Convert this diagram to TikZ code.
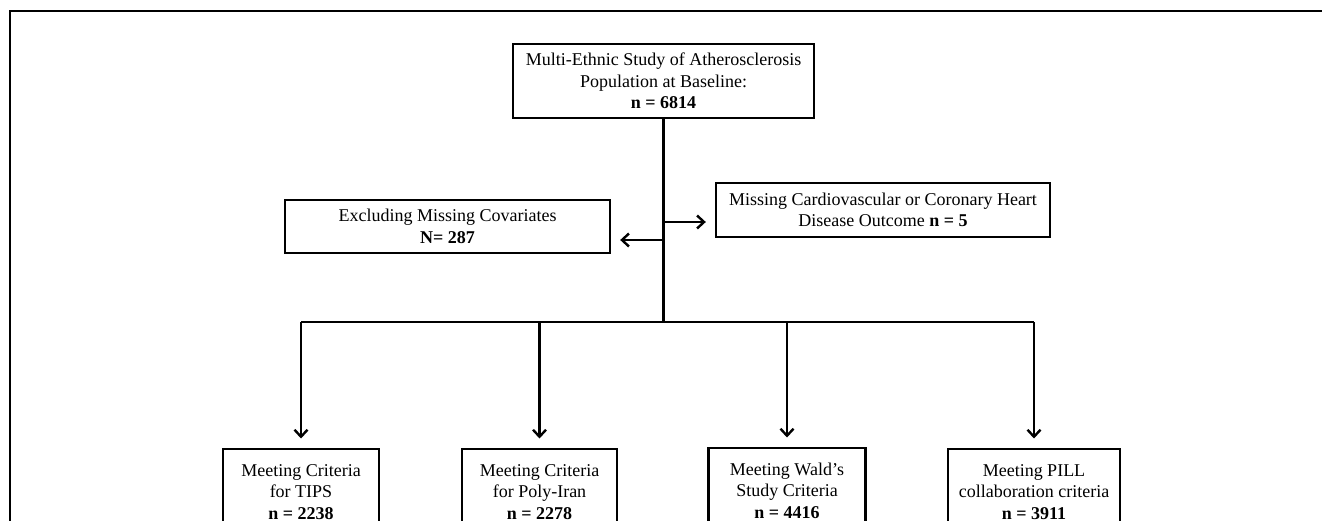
\documentclass[tikz,border=0pt]{standalone}
\usepackage{fontspec}
\setmainfont{Liberation Serif}
\usetikzlibrary{arrows.meta}
\begin{document}
\begin{tikzpicture}[x=1pt,y=-1pt,
  box/.style={draw,line width=2.4pt,align=center,inner sep=0pt,
    font=\fontsize{18}{21.5}\selectfont},
  link/.style={line width=2.3pt},
  arr/.style={line width=2.3pt,-{Straight Barb[length=7pt,width=13pt,line width=2.4pt]},shorten >=9pt}]
\useasboundingbox (0,0) rectangle (1322,521);
\clip (0,0) rectangle (1322,521);
% frame
\draw[line width=2.4pt] (10,530) -- (10,11) -- (1330,11);
% nodes
\node[box,minimum width=301pt,minimum height=74pt] (top) at (663.5,81)
  {Multi-Ethnic Study of Atherosclerosis\\Population at Baseline:\\\textbf{n = 6814}};
\node[box,minimum width=325pt,minimum height=53pt] (excl) at (447.5,226.5)
  {Excluding Missing Covariates\\\textbf{N= 287}};
\node[box,minimum width=334pt,minimum height=54pt] (miss) at (883,210)
  {Missing Cardiovascular or Coronary Heart\\Disease Outcome \textbf{n = 5}};
\node[box,anchor=north,minimum width=156pt,minimum height=86pt] (tips) at (301,447.5)
  {Meeting Criteria\\for TIPS\\\textbf{n = 2238}};
\node[box,anchor=north,minimum width=155pt,minimum height=86pt] (poly) at (539.5,447.5)
  {Meeting Criteria\\for Poly-Iran\\\textbf{n = 2278}};
\node[box,anchor=north,minimum width=157pt,minimum height=86pt] (wald) at (787,446.5)
  {Meeting Wald’s\\Study Criteria\\\textbf{n = 4416}};
\node[box,anchor=north,minimum width=172pt,minimum height=86pt] (pill) at (1034,447.5)
  {Meeting PILL\\collaboration criteria\\\textbf{n = 3911}};
% connectors
\coordinate (jl) at (663.5,240);
\coordinate (jr) at (663.5,222);
\coordinate (bar) at (663.5,322);
\draw[link] (top.south) -- (bar);
\draw[arr] (jl) -- (jl -| excl.east);
\draw[arr] (jr) -- (jr -| miss.west);
\draw[link] (bar -| tips.north) -- (bar -| pill.north);
\draw[arr] (bar -| tips.north) -- (tips.north);
\draw[arr] (bar -| poly.north) -- (poly.north);
\draw[arr] (bar -| wald.north) -- (wald.north);
\draw[arr] (bar -| pill.north) -- (pill.north);
\end{tikzpicture}
\end{document}
